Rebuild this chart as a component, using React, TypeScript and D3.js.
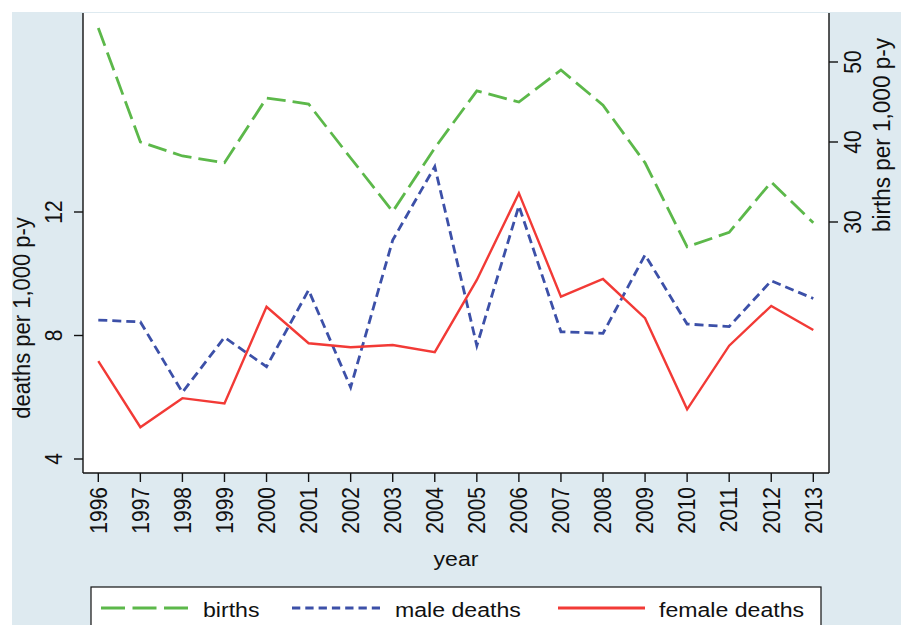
import React from "react";
import * as d3 from "d3";

const years = [1996, 1997, 1998, 1999, 2000, 2001, 2002, 2003, 2004, 2005, 2006, 2007, 2008, 2009, 2010, 2011, 2012, 2013];
const births = [54.25, 40.0, 38.25, 37.4, 45.5, 44.75, 38.0, 31.3, 39.25, 46.4, 45.0, 49.0, 44.6, 37.4, 26.9, 28.7, 35.0, 29.9];
const maleDeaths = [8.5, 8.44, 6.16, 7.94, 6.99, 9.47, 6.32, 11.09, 13.47, 7.67, 12.2, 8.12, 8.07, 10.61, 8.37, 8.29, 9.77, 9.2];
const femaleDeaths = [7.17, 5.03, 5.97, 5.8, 8.93, 7.75, 7.62, 7.69, 7.46, 9.8, 12.61, 9.26, 9.83, 8.56, 5.61, 7.67, 8.96, 8.18];
const leftTicks = [4, 8, 12];
const rightTicks = [30, 40, 50];

const GREEN = "#5cb84a";
const BLUE = "#3c50a8";
const RED = "#f23a36";
const BG = "#deeaf0";
const FONT = "'Liberation Sans', Arial, Helvetica, sans-serif";
const FS = 21;
const SX = 1.1;

export default function App() {
  const left = 83, right = 829, top = 13, bottom = 473;
  const x = d3.scaleLinear().domain([1996, 2013]).range([98.3, 813.3]);
  const yL = d3.scaleLinear().domain([4, 12]).range([459, 212]);
  const yR = d3.scaleLinear().domain([30, 50]).range([222, 62]);

  const lineL = (vals: number[]) =>
    d3.line<number>().x((_, i) => x(years[i])).y((d) => yL(d))(vals) || "";
  const lineR = (vals: number[]) =>
    d3.line<number>().x((_, i) => x(years[i])).y((d) => yR(d))(vals) || "";

  const txt = (
    s: string,
    tx: number,
    ty: number,
    opts: { rot?: boolean; anchor?: string; fs?: number } = {}
  ) => (
    <text
      transform={`translate(${tx},${ty}) scale(${SX},1)${opts.rot ? " rotate(-90)" : ""}`}
      textAnchor={opts.anchor || "start"}
      fontFamily={FONT}
      fontSize={opts.fs || FS}
      fill="#111"
    >
      {s}
    </text>
  );

  return (
    <svg width={901} height={625} style={{ position: "absolute", left: 0, top: 0 }}>
      <rect x={0} y={0} width={901} height={625} fill="#fff" />
      <rect x={12} y={12} width={889} height={613} fill={BG} />
      <rect x={left} y={top} width={right - left} height={bottom - top} fill="#fff" />

      {/* lines */}
      <path d={lineR(births)} fill="none" stroke={GREEN} strokeWidth={2.8} strokeDasharray="19 7" />
      <path d={lineL(maleDeaths)} fill="none" stroke={BLUE} strokeWidth={2.8} strokeDasharray="9 5" />
      <path d={lineL(femaleDeaths)} fill="none" stroke={RED} strokeWidth={2.4} />

      {/* axes */}
      <line x1={left} x2={left} y1={top} y2={bottom} stroke="#111" strokeWidth={1.4} />
      <line x1={right} x2={right} y1={top} y2={bottom} stroke="#111" strokeWidth={1.4} />
      <line x1={left} x2={right} y1={bottom} y2={bottom} stroke="#111" strokeWidth={1.4} />

      {leftTicks.map((t) => (
        <g key={"l" + t}>
          <line x1={left - 9} x2={left} y1={yL(t)} y2={yL(t)} stroke="#111" strokeWidth={1.4} />
          {txt(String(t), 62, yL(t), { rot: true, anchor: "middle" })}
        </g>
      ))}
      {rightTicks.map((t) => (
        <g key={"r" + t}>
          <line x1={right} x2={right + 9} y1={yR(t)} y2={yR(t)} stroke="#111" strokeWidth={1.4} />
          {txt(String(t), 861, yR(t), { rot: true, anchor: "middle" })}
        </g>
      ))}
      {years.map((yr) => (
        <g key={"x" + yr}>
          <line x1={x(yr)} x2={x(yr)} y1={bottom} y2={bottom + 9} stroke="#111" strokeWidth={1.4} />
          {txt(String(yr), x(yr) + 8.3, 487, { rot: true, anchor: "end" })}
        </g>
      ))}

      {txt("year", 456, 566, { anchor: "middle" })}
      {txt("deaths per 1,000 p-y", 30, 318, { rot: true, anchor: "middle", fs: 22 })}
      {txt("births per 1,000 p-y", 890, 135, { rot: true, anchor: "middle", fs: 22.5 })}

      {/* legend */}
      <rect x={91} y={587} width={730} height={60} fill="#fff" stroke="#111" strokeWidth={1.2} />
      <line x1={101} x2={188} y1={608} y2={608} stroke={GREEN} strokeWidth={2.8} strokeDasharray="24 7.5" />
      {txt("births", 203, 617)}
      <line x1={292} x2={380} y1={608} y2={608} stroke={BLUE} strokeWidth={2.8} strokeDasharray="8.3 5" />
      {txt("male deaths", 395, 617)}
      <line x1={558} x2={645} y1={608} y2={608} stroke={RED} strokeWidth={2.8} />
      {txt("female deaths", 659, 617)}
    </svg>
  );
}
